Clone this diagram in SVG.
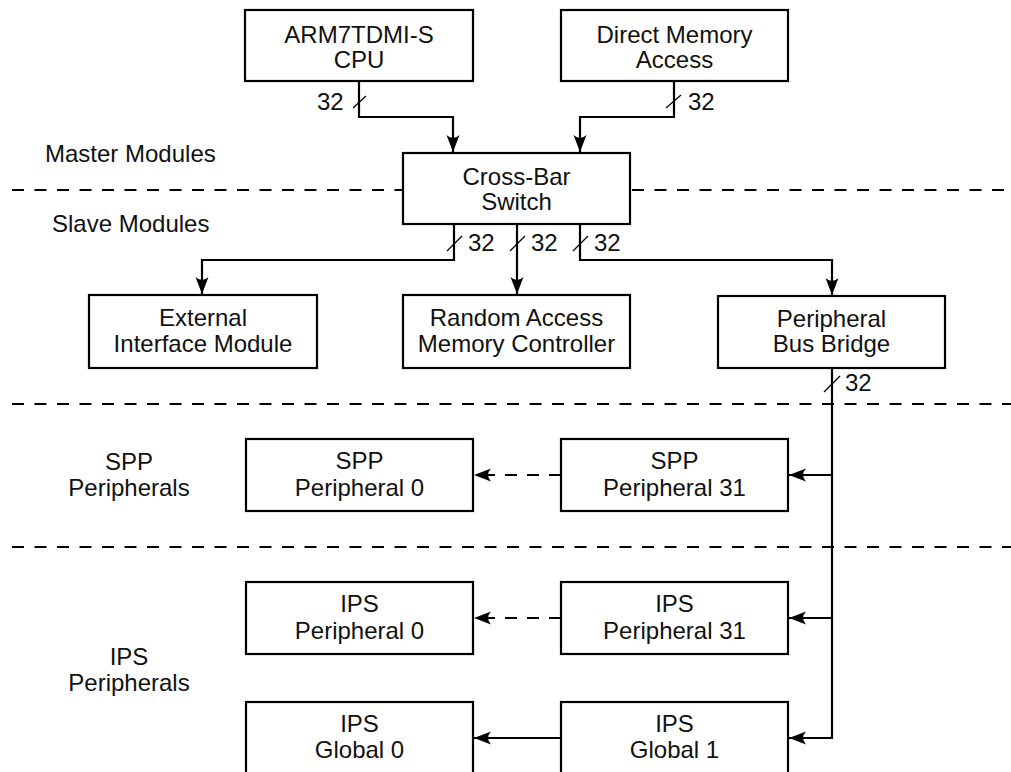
<svg xmlns="http://www.w3.org/2000/svg" width="1011" height="772" viewBox="0 0 1011 772">
<style>
  .box{fill:#fff;stroke:#000;stroke-width:2.2}
  .t{font-family:"Liberation Sans",Arial,Helvetica,sans-serif;font-size:24px;fill:#111;text-anchor:middle}
  .tl{font-family:"Liberation Sans",Arial,Helvetica,sans-serif;font-size:24px;fill:#111}
  .w{fill:none;stroke:#000;stroke-width:2.2}
  .wd{fill:none;stroke:#000;stroke-width:2.2;stroke-dasharray:12 10}
  .sep{fill:none;stroke:#000;stroke-width:2;stroke-dasharray:12 10.5}
  .sl{stroke:#000;stroke-width:1.2}
</style>
<defs>
  <marker id="ah" markerUnits="userSpaceOnUse" markerWidth="20" markerHeight="14" viewBox="-18 -7 20 14" refX="0" refY="0" orient="auto">
    <path d="M0,0 L-17,-6.5 Q-11,0 -17,6.5 Z" fill="#000"/>
  </marker>
</defs>

<g id="separators">
  <line class="sep" x1="12" y1="190" x2="402" y2="190"/>
  <line class="sep" x1="632" y1="190" x2="1011" y2="190"/>
  <line class="sep" x1="12" y1="404" x2="1011" y2="404"/>
  <line class="sep" x1="12" y1="547" x2="1011" y2="547"/>
</g>

<g id="region-labels">
  <text class="tl" x="45" y="162">Master Modules</text>
  <text class="tl" x="52" y="232">Slave Modules</text>
  <text class="t" x="129" y="470">SPP</text>
  <text class="t" x="129" y="496">Peripherals</text>
  <text class="t" x="129" y="665">IPS</text>
  <text class="t" x="129" y="691">Peripherals</text>
</g>

<g id="connectors">
  <path class="w" d="M359,81 V117 H453 V152" marker-end="url(#ah)"/>
  <path class="w" d="M674,81 V117 H580 V152" marker-end="url(#ah)"/>
  <path class="w" d="M454,224 V260 H202 V294" marker-end="url(#ah)"/>
  <path class="w" d="M517,224 V294" marker-end="url(#ah)"/>
  <path class="w" d="M580,224 V260 H832 V295" marker-end="url(#ah)"/>
  <path class="w" d="M832,368 V738 H789" marker-end="url(#ah)"/>
  <path class="w" d="M832,475 H789" marker-end="url(#ah)"/>
  <path class="w" d="M832,618 H789" marker-end="url(#ah)"/>
  <path class="wd" d="M561,475 H474" marker-end="url(#ah)"/>
  <path class="wd" d="M561,618 H474" marker-end="url(#ah)"/>
  <path class="w" d="M561,738 H474" marker-end="url(#ah)"/>
  <line class="sl" x1="353" y1="108" x2="366" y2="96"/>
  <line class="sl" x1="666" y1="108" x2="681" y2="95"/>
  <line class="sl" x1="447" y1="251" x2="462" y2="236"/>
  <line class="sl" x1="510" y1="251" x2="525" y2="236"/>
  <line class="sl" x1="573" y1="251" x2="588" y2="236"/>
  <line class="sl" x1="824" y1="392" x2="840" y2="376"/>
  <text class="tl" x="317" y="110">32</text>
  <text class="tl" x="688" y="110">32</text>
  <text class="tl" x="468" y="251">32</text>
  <text class="tl" x="531" y="251">32</text>
  <text class="tl" x="594" y="251">32</text>
  <text class="tl" x="845" y="391">32</text>
</g>

<g id="cpu">
  <rect class="box" x="245" y="10" width="228" height="71"/>
  <text class="t" x="359" y="43">ARM7TDMI-S</text>
  <text class="t" x="359" y="68">CPU</text>
</g>
<g id="dma">
  <rect class="box" x="561" y="10" width="227" height="71"/>
  <text class="t" x="674.5" y="43">Direct Memory</text>
  <text class="t" x="674.5" y="68">Access</text>
</g>
<g id="crossbar">
  <rect class="box" x="403" y="153" width="227" height="71"/>
  <text class="t" x="516.5" y="185">Cross-Bar</text>
  <text class="t" x="516.5" y="210">Switch</text>
</g>
<g id="eim">
  <rect class="box" x="89" y="295" width="228" height="73"/>
  <text class="t" x="203" y="326">External</text>
  <text class="t" x="203" y="352">Interface Module</text>
</g>
<g id="ramc">
  <rect class="box" x="403" y="295" width="227" height="73"/>
  <text class="t" x="516.5" y="326">Random Access</text>
  <text class="t" x="516.5" y="352">Memory Controller</text>
</g>
<g id="pbb">
  <rect class="box" x="718" y="296" width="227" height="72"/>
  <text class="t" x="831.5" y="327">Peripheral</text>
  <text class="t" x="831.5" y="352">Bus Bridge</text>
</g>
<g id="spp0">
  <rect class="box" x="246" y="439" width="227" height="72"/>
  <text class="t" x="359.5" y="469">SPP</text>
  <text class="t" x="359.5" y="496">Peripheral 0</text>
</g>
<g id="spp31">
  <rect class="box" x="561" y="439" width="227" height="72"/>
  <text class="t" x="674.5" y="469">SPP</text>
  <text class="t" x="674.5" y="496">Peripheral 31</text>
</g>
<g id="ips0">
  <rect class="box" x="246" y="582" width="227" height="72"/>
  <text class="t" x="359.5" y="612">IPS</text>
  <text class="t" x="359.5" y="639">Peripheral 0</text>
</g>
<g id="ips31">
  <rect class="box" x="561" y="582" width="227" height="72"/>
  <text class="t" x="674.5" y="612">IPS</text>
  <text class="t" x="674.5" y="639">Peripheral 31</text>
</g>
<g id="global0">
  <rect class="box" x="246" y="702" width="227" height="74"/>
  <text class="t" x="359.5" y="732">IPS</text>
  <text class="t" x="359.5" y="758">Global 0</text>
</g>
<g id="global1">
  <rect class="box" x="561" y="702" width="227" height="74"/>
  <text class="t" x="674.5" y="732">IPS</text>
  <text class="t" x="674.5" y="758">Global 1</text>
</g>
</svg>
